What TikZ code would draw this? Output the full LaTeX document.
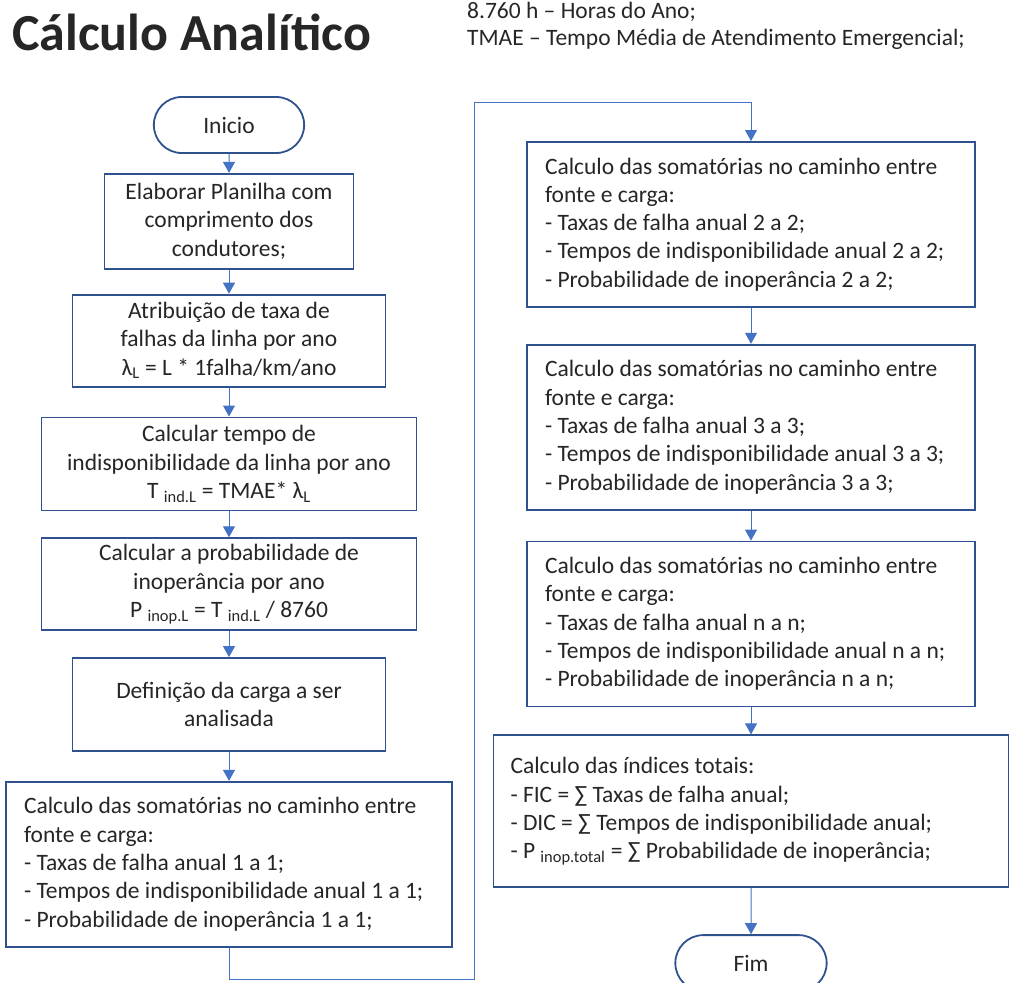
\documentclass[tikz,border=0pt]{standalone}
\usepackage{fontspec}
\setmainfont{Carlito}
\usetikzlibrary{positioning, arrows.meta, calc, shapes.misc}

\definecolor{bordaazul}{HTML}{2F528F}
\definecolor{setaazul}{HTML}{4472C4}

\begin{document}
\begin{tikzpicture}[
    x=1pt, y=-1pt,
    every node/.style={font=\fontsize{23.5}{28.3}\selectfont, text=black!85},
    box/.style={draw=bordaazul, line width=1.8pt, fill=white, align=center, inner xsep=16pt},
    lbox/.style={box, align=flush left, minimum width=448pt, text width=412pt, minimum height=165pt},
    term/.style={draw=bordaazul, line width=1.8pt, rounded rectangle, minimum width=157pt, minimum height=56pt},
    arr/.style={-{Triangle[length=11pt, width=12pt]}, draw=setaazul, line width=1pt},
]
\useasboundingbox (0,0) rectangle (1010,983);

% ── Title and legend ─────────────────────────────────────────────────────────
\node[font=\fontsize{52}{58}\selectfont\bfseries, anchor=west, inner sep=0pt] (titulo) at (12,32) {Cálculo Analítico};
\node[anchor=north west, align=flush left, inner sep=0pt, font=\fontsize{23.5}{27}\selectfont] (legenda) at (467,2)
     {8.760 h – Horas do Ano;\\TMAE – Tempo Média de Atendimento Emergencial;};

% ── Left column ──────────────────────────────────────────────────────────────
\node[term] (inicio) at (229,125) {Inicio};
\node[box, minimum width=249pt, minimum height=95pt, below=19pt of inicio] (planilha)
     {Elaborar Planilha com\\comprimento dos\\condutores;};
\node[box, minimum width=313pt, minimum height=92pt, below=24pt of planilha] (taxa)
     {Atribuição de taxa de\\falhas da linha por ano\\λ\textsubscript{L} = L * 1falha/km/ano};
\node[box, minimum width=375pt, minimum height=93pt, below=29pt of taxa] (tempo)
     {Calcular tempo de\\indisponibilidade da linha por ano\\T \textsubscript{ind.L} = TMAE* λ\textsubscript{L}};
\node[box, minimum width=375pt, minimum height=92pt, below=26pt of tempo] (prob)
     {Calcular a probabilidade de\\inoperância por ano\\P \textsubscript{inop.L} = T \textsubscript{ind.L} / 8760};
\node[box, minimum width=313pt, minimum height=93pt, below=26pt of prob] (carga)
     {Definição da carga a ser\\analisada};
\node[lbox, minimum width=446pt, text width=410pt, below=29pt of carga] (soma1)
     {Calculo das somatórias no caminho entre\\fonte e carga:\\- Taxas de falha anual 1 a 1;\\- Tempos de indisponibilidade anual 1 a 1;\\- Probabilidade de inoperância 1 a 1;};

% ── Right column ─────────────────────────────────────────────────────────────
\node[lbox, anchor=north] (soma2) at (751,141)
     {Calculo das somatórias no caminho entre\\fonte e carga:\\- Taxas de falha anual 2 a 2;\\- Tempos de indisponibilidade anual 2 a 2;\\- Probabilidade de inoperância 2 a 2;};
\node[lbox, below=36pt of soma2] (soma3)
     {Calculo das somatórias no caminho entre\\fonte e carga:\\- Taxas de falha anual 3 a 3;\\- Tempos de indisponibilidade anual 3 a 3;\\- Probabilidade de inoperância 3 a 3;};
\node[lbox, below=30pt of soma3] (soman)
     {Calculo das somatórias no caminho entre\\fonte e carga:\\- Taxas de falha anual n a n;\\- Tempos de indisponibilidade anual n a n;\\- Probabilidade de inoperância n a n;};
\node[lbox, minimum width=515pt, text width=481pt, minimum height=152pt, below=27pt of soman] (total)
     {Calculo das índices totais:\\- FIC = ∑ Taxas de falha anual;\\- DIC = ∑ Tempos de indisponibilidade anual;\\- P \textsubscript{inop.total} = ∑ Probabilidade de inoperância;};
\node[term, minimum width=158pt, below=46pt of total] (fim) {Fim};

% ── Arrows ───────────────────────────────────────────────────────────────────
\draw[arr] (inicio) -- (planilha);
\draw[arr] (planilha) -- (taxa);
\draw[arr] (taxa) -- (tempo);
\draw[arr] (tempo) -- (prob);
\draw[arr] (prob) -- (carga);
\draw[arr] (carga) -- (soma1);
\coordinate (voltabaixo) at (474,979);
\coordinate (voltacima) at (474,102);
\draw[arr] (soma1.south) |- (voltabaixo) -- (voltacima) -| (soma2.north);
\draw[arr] (soma2) -- (soma3);
\draw[arr] (soma3) -- (soman);
\draw[arr] (soman) -- (total);
\draw[arr] (total) -- (fim);

\end{tikzpicture}
\end{document}
